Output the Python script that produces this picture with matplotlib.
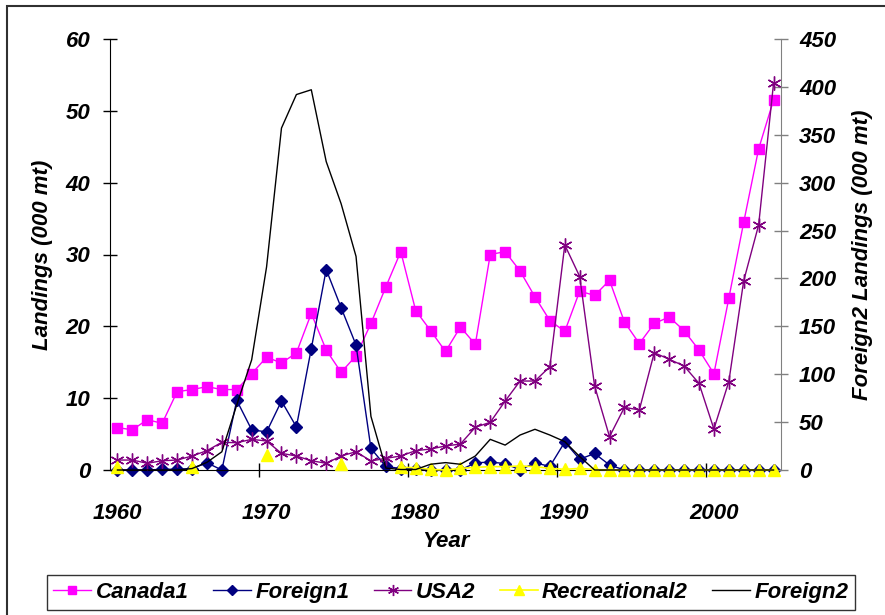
import numpy as np
import matplotlib
matplotlib.use("Agg")
from matplotlib import pyplot as plt
from matplotlib.patches import Rectangle

plt.rcParams['font.family'] = ['Liberation Sans', 'DejaVu Sans']
plt.rcParams['font.weight'] = 'bold'
plt.rcParams['font.style'] = 'italic'
plt.rcParams['axes.labelweight'] = 'bold'
plt.rcParams['font.size'] = 16

nan = np.nan
years = np.arange(1960, 2005)

canada1 = [5.9, 5.6, 7.0, 6.5, 10.9, 11.2, 11.6, 11.2, 11.2, 13.4,
           15.7, 14.9, 16.3, 21.8, 16.7, 13.6, 15.9, 20.4, 25.5, 30.4,
           22.2, 19.4, 16.5, 19.9, 17.5, 30.0, 30.4, 27.7, 24.1, 20.8,
           19.3, 24.9, 24.3, 26.4, 20.6, 17.6, 20.4, 21.3, 19.4, 16.7,
           13.4, 23.9, 34.5, 44.7, 51.5]
foreign1 = [0, 0, 0, 0.1, 0.1, 0.2, 1.0, 0, 9.7, 5.6,
            5.3, 9.6, 6.0, 16.9, 27.9, 22.6, 17.4, 3.0, 0.5, 0.2,
            0.2, 0, 0, 0, 1.0, 1.1, 0.9, 0, 1.0, 0.5,
            3.9, 1.5, 2.3, 0.7, 0, 0, 0, 0, 0, 0,
            0, 0, 0, 0, 0]
usa2 = [10.4, 10.4, 7.0, 9.7, 10.4, 14.6, 20.2, 28.9, 28.5, 32.0,
        30.3, 17.4, 14.6, 9.7, 7.0, 14.6, 19.1, 9.4, 12.2, 14.6,
        20.2, 21.9, 25.1, 27.1, 44.6, 49.8, 72.0, 92.9, 92.9, 107.9,
        235, 202, 87.7, 34.8, 65.4, 62.7, 122.5, 115.6, 108.6, 90.5,
        42.8, 92.2, 197.7, 255.8, 403.8]
recreational2 = [3, nan, nan, nan, nan, 3, nan, nan, nan, nan,
                 15.7, nan, nan, nan, nan, 6, nan, nan, nan, 2.8,
                 2.4, 0.7, 0, 1.7, 2.8, 3.5, 3.5, 4.2, 3.5, 1.7,
                 0.7, 1.7, 0.5, 0, 0, 0, 0, 0, 0, 0,
                 0, 0, 0, 0, 0]
foreign2 = [0, 0, 0, 0, 0, 1.5, 8, 19, 68, 115,
            212, 357, 392, 397, 322, 278, 223, 56, 2, 0.5,
            0.5, 6, 7.7, 6, 14.6, 32, 26, 36.5, 42.5, 36.5,
            29.6, 14, 0, 0, 0, 0, 0, 0, 0, 0,
            0, 0, 0, 0, 0]

fig = plt.figure(figsize=(8.85, 6.15), dpi=100)
ax = fig.add_axes([110/885, 1 - 470/615, 671/885, 431/615])
ax2 = ax.twinx()

# outer chart border
fig.add_artist(Rectangle((7/885, -0.1), 1.2, 1.1 - 6/615, transform=fig.transFigure,
                         fill=False, edgecolor='#303030', linewidth=1.5))

l1, = ax.plot(years, canada1, color='#FF00FF', marker='s', ms=7, lw=1, clip_on=False, label='Canada1')
l2, = ax.plot(years, foreign1, color='#000080', marker='D', ms=6, lw=1, clip_on=False, label='Foreign1')
l3, = ax2.plot(years, usa2, color='#800080', marker=(6, 2, 0), ms=10, mew=1, lw=1, clip_on=False, label='USA2')
l4, = ax2.plot(years, recreational2, color='#FFFF00', marker='^', ms=9, lw=1.2, clip_on=False, label='Recreational2')
l5, = ax2.plot(years, foreign2, color='black', lw=1, clip_on=False, label='Foreign2')

ax.set_xlim(1959.5, 2004.5)
ax.set_ylim(0, 60)
ax2.set_ylim(0, 450)

ax.set_xticks(np.arange(1960, 2001, 10))
ax.set_xticks(np.arange(1969.5, 2005, 10), minor=True)
ax.tick_params(axis='x', which='major', length=0, pad=24)
ax.tick_params(axis='x', which='minor', length=10, direction='inout', width=1)
ax.set_yticks(np.arange(0, 61, 10))
ax.tick_params(axis='y', length=10, direction='inout', width=1, pad=9)
ax2.set_yticks(np.arange(0, 451, 50))
ax2.tick_params(axis='y', length=10, direction='inout', width=1, pad=8, color='#808080')

for s in ['top', 'right']:
    ax.spines[s].set_visible(False)
for s in ['top', 'left', 'bottom']:
    ax2.spines[s].set_visible(False)
ax2.spines['right'].set_color('#808080')

ax.set_xlabel('Year')
ax.xaxis.set_label_coords(0.5, -0.142)
ax.set_ylabel('Landings (000 mt)')
ax.yaxis.set_label_coords(-0.085, 0.5)
ax2.set_ylabel('Foreign2 Landings (000 mt)')
ax2.yaxis.set_label_coords(1.106, 0.5)

leg = fig.legend(handles=[l1, l2, l3, l4, l5], loc='center', bbox_to_anchor=(451/885, 1 - 592.5/615),
                 ncol=5, frameon=True, fancybox=False, edgecolor='black', handlelength=1.7,
                 handletextpad=0.2, columnspacing=1.1, borderpad=0.3, markerscale=0.8)
leg.get_frame().set_linewidth(1)

fig.savefig('out.png', dpi=100)
